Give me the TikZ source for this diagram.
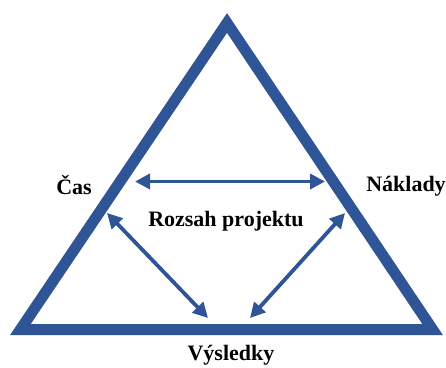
\documentclass[tikz,border=0pt]{standalone}
\usepackage{fontspec}
\setmainfont{Liberation Serif}
\usetikzlibrary{arrows.meta}
\definecolor{triblue}{RGB}{47,85,151}
\begin{document}
\begin{tikzpicture}[x=1pt, y=-1pt,
	edge/.style={line width=11pt, draw=triblue, line join=miter},
	link/.style={line width=3.8pt, draw=triblue, {Triangle[length=15pt,width=15pt]}-{Triangle[length=15pt,width=15pt]}},
	lbl/.style={font=\fontsize{22}{26}\selectfont\bfseries}]
			\useasboundingbox (0,0) rectangle (446,367);
			%triangle
			\draw[edge] (20.4,329.5) -- (227,23) -- (432.6,329.5) -- cycle;
			%labels
			\node[lbl] (cas) at (74,185) {Čas};
			\node[lbl] (naklady) at (406,186) {Náklady};
			\node[lbl] (rozsah) at (226,221) {Rozsah projektu};
			\node[lbl] (vysledky) at (231,355) {Výsledky};
			%arrow ends
			\coordinate (hl) at (135,181.5);
			\coordinate (hr) at (325,181.5);
			\coordinate (dl) at (107,213);
			\coordinate (bl) at (208,318);
			\coordinate (dr) at (345,213);
			\coordinate (br) at (250,318);
			%arrows
			\draw[link] (hl) -- (hr);
			\draw[link] (dl) -- (bl);
			\draw[link] (dr) -- (br);
		\end{tikzpicture}
\end{document}
